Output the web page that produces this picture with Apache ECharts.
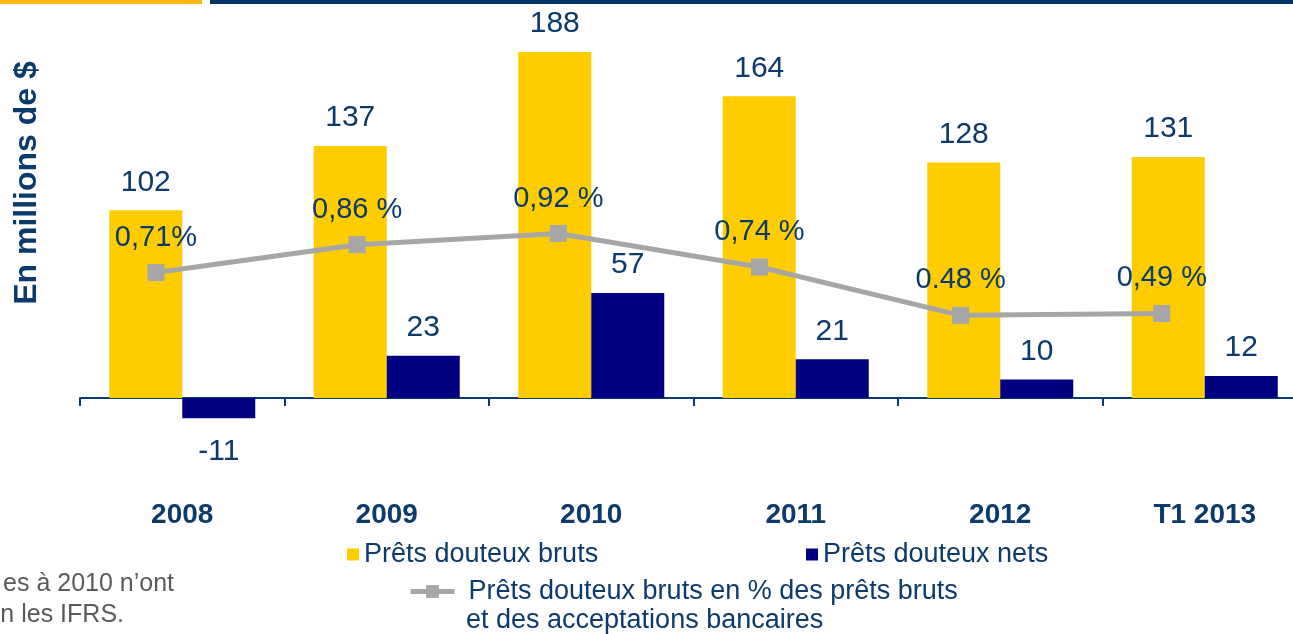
<!DOCTYPE html>
<html lang="fr">
<head>
  <meta charset="UTF-8">
  <title>Prêts douteux</title>
  <script src="https://cdn.jsdelivr.net/npm/echarts@6/dist/echarts.min.js"></script>
  <style>
    html, body {
      margin: 0;
      padding: 0;
      background: #fff;
    }

    #main {
      width: 1293px;
      height: 634px;
    }
  </style>
</head>
<body>
<div id="main"></div>
<script>
  // données
  var years = ['2008', '2009', '2010', '2011', '2012', 'T1 2013'];
  var brutsValues = [102, 137, 188, 164, 128, 131];
  var netsValues = [-11, 23, 57, 21, 10, 12];
  var pctValues = [0.71, 0.86, 0.92, 0.74, 0.48, 0.49];
  var pctLabels = ['0,71%', '0,86 %', '0,92 %', '0,74 %', '0.48 %', '0,49 %'];

  var txtColor = '#0b3a6c';
  var fontFam = 'Liberation Sans, Arial, sans-serif';
  var nomBruts = 'Prêts douteux bruts';
  var nomNets = 'Prêts douteux nets';
  var nomPct = 'Prêts douteux bruts en % des prêts bruts et des acceptations bancaires';

  var myChart = echarts.init(document.getElementById('main'));

  var option = {
    animation: false,
    textStyle: {fontFamily: fontFam},
    grid: [
      {left: 80, width: 1227, top: 30, bottom: 180.8, outerBoundsMode: 'none', containLabel: false},
      {left: 55.4, width: 1207, top: 30, bottom: 180.8, outerBoundsMode: 'none', containLabel: false}
    ],
    legend: [
      {
        data: [nomBruts], left: 342, top: 536, icon: 'rect', itemWidth: 12, itemHeight: 12,
        textStyle: {color: txtColor, fontSize: 27, fontFamily: fontFam}
      },
      {
        data: [nomNets], left: 801, top: 536, icon: 'rect', itemWidth: 12, itemHeight: 12,
        textStyle: {color: txtColor, fontSize: 27, fontFamily: fontFam}
      },
      {
        data: [nomPct], left: 403, top: 573, itemWidth: 44, itemHeight: 16,
        lineStyle: {width: 5},
        // la 2e ligne est dessinée à part (graphic)
        formatter: function () {
          return 'Prêts douteux bruts en % des prêts bruts';
        },
        textStyle: {color: txtColor, fontSize: 27, fontFamily: fontFam, padding: [0, 0, 0, 9]}
      }
    ],
    graphic: [
      {type: 'rect', shape: {x: 0, y: 0, width: 202, height: 4}, style: {fill: '#ffb612'}},
      {type: 'rect', shape: {x: 210, y: 0, width: 1083, height: 4}, style: {fill: '#003366'}},
      {
        type: 'text', x: 27, y: 183, rotation: Math.PI / 2,
        style: {
          text: 'En millions de $', fill: txtColor, font: 'bold 32px ' + fontFam,
          align: 'center', verticalAlign: 'middle'
        }
      },
      {
        type: 'text', x: 466, y: 621,
        style: {text: 'et des acceptations bancaires', fill: txtColor, font: '27px ' + fontFam, align: 'left', verticalAlign: 'middle'}
      },
      {
        type: 'text', x: 174, y: 584,
        style: {text: 'es à 2010 n’ont', fill: '#5a5a5a', font: '25px ' + fontFam, align: 'right', verticalAlign: 'middle'}
      },
      {
        type: 'text', x: 124, y: 615,
        style: {text: 'n les IFRS.', fill: '#5a5a5a', font: '25px ' + fontFam, align: 'right', verticalAlign: 'middle'}
      }
    ],
    xAxis: [
      {
        type: 'category',
        gridIndex: 0,
        data: years,
        axisLine: {lineStyle: {color: txtColor, width: 2}},
        axisTick: {show: true, length: 8, lineStyle: {color: txtColor, width: 2}},
        axisLabel: {margin: 48, color: txtColor, fontSize: 28, fontWeight: 'bold', fontFamily: fontFam}
      },
      {type: 'category', gridIndex: 1, data: years, show: false}
    ],
    yAxis: [
      {type: 'value', gridIndex: 0, min: -30, max: 200, show: false, splitLine: {show: false}},
      {type: 'value', gridIndex: 1, min: -0.261, max: 2.014, show: false, splitLine: {show: false}}
    ],
    series: [
      {
        name: nomBruts,
        type: 'bar',
        xAxisIndex: 0, yAxisIndex: 0,
        barWidth: 73,
        barGap: '0%',
        itemStyle: {color: '#ffcc00'},
        label: {show: true, position: 'top', distance: 13, color: txtColor, fontSize: 30, fontFamily: fontFam},
        data: brutsValues
      },
      {
        name: nomNets,
        type: 'bar',
        xAxisIndex: 0, yAxisIndex: 0,
        barWidth: 73,
        barGap: '0%',
        itemStyle: {color: '#000080'},
        label: {show: true, position: 'top', distance: 13, color: txtColor, fontSize: 30, fontFamily: fontFam},
        data: netsValues.map(function (v) {
          return v < 0 ? {value: v, label: {position: 'bottom', distance: 18}} : v;
        })
      },
      {
        name: nomPct,
        type: 'line',
        xAxisIndex: 1, yAxisIndex: 1,
        z: 5,
        symbol: 'rect',
        symbolSize: 17,
        lineStyle: {color: '#a6a6a6', width: 5},
        itemStyle: {color: '#a6a6a6'},
        label: {
          show: true, position: 'top', distance: 12, color: txtColor, fontSize: 29, fontFamily: fontFam,
          formatter: function (p) {
            return pctLabels[p.dataIndex];
          }
        },
        data: pctValues
      }
    ]
  };

  myChart.setOption(option);
</script>
</body>
</html>
